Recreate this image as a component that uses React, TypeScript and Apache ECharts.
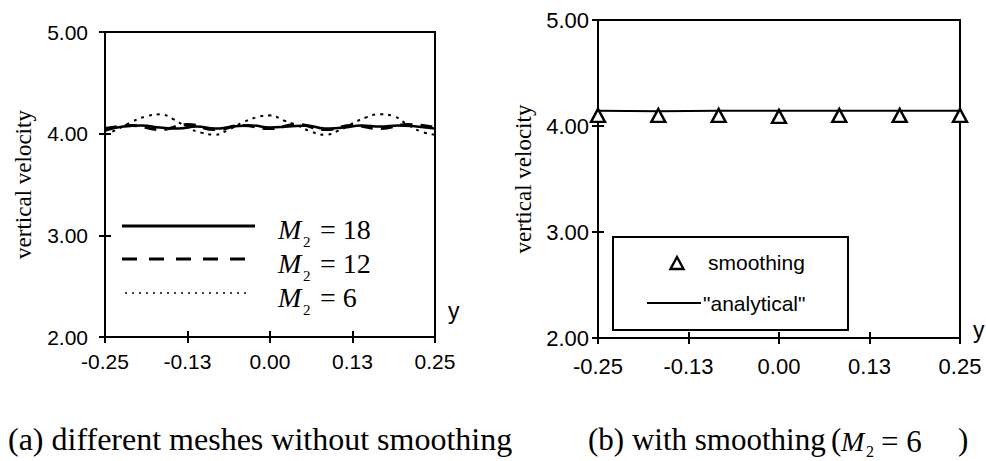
import React, { useEffect, useRef } from "react";
import * as echarts from "echarts";

// ---- data ----
const xM6 = [-0.25, -0.2292, -0.2083, -0.1875, -0.1667, -0.1458, -0.125, -0.1042, -0.0833, -0.0625, -0.0417, -0.0208, 0, 0.0208, 0.0417, 0.0625, 0.0833, 0.1042, 0.125, 0.1458, 0.1667, 0.1875, 0.2083, 0.2292, 0.25];
const vM6 = [3.99, 4.05, 4.12, 4.17, 4.19, 4.14, 4.06, 4.01, 3.99, 4.04, 4.11, 4.16, 4.18, 4.13, 4.08, 4.02, 3.99, 4.03, 4.10, 4.16, 4.19, 4.17, 4.09, 4.02, 3.99];

const xM12 = [-0.25, -0.2083, -0.1667, -0.125, -0.0833, -0.0417, 0, 0.0417, 0.0833, 0.125, 0.1667, 0.2083, 0.25];
const vM12 = [4.05, 4.08, 4.04, 4.09, 4.04, 4.08, 4.05, 4.09, 4.04, 4.08, 4.05, 4.09, 4.06];

const xM18 = [-0.25, -0.2222, -0.1944, -0.1667, -0.1389, -0.1111, -0.0833, -0.0556, -0.0278, 0, 0.0278, 0.0556, 0.0833, 0.1111, 0.1389, 0.1667, 0.1944, 0.2222, 0.25];
const vM18 = [4.03, 4.07, 4.08, 4.06, 4.05, 4.07, 4.05, 4.07, 4.08, 4.06, 4.07, 4.08, 4.05, 4.06, 4.08, 4.07, 4.08, 4.07, 4.05];

const xSmooth = [-0.25, -0.1667, -0.0833, 0, 0.0833, 0.1667, 0.25];
const vSmooth = [4.10, 4.10, 4.10, 4.09, 4.10, 4.10, 4.10];
const vAnalytical = [4.145, 4.14, 4.145, 4.145, 4.145, 4.145, 4.145];

const xTicks = { min: -0.25, max: 0.25, interval: 0.125 };
const yTicks = { min: 2, max: 5, interval: 1 };

const SANS = '"Liberation Sans", Arial, sans-serif';
const SERIF = '"Liberation Serif", "Times New Roman", serif';

const zip = (xs: number[], ys: number[]) => xs.map((x, i) => [x, ys[i]]);

export default function App() {
  const ref = useRef<HTMLDivElement>(null);
  useEffect(() => {
    if (!ref.current) return;
    const chart = echarts.init(ref.current, undefined, { renderer: "svg" });
    const fmt = (v: number) => v.toFixed(2);
    const axLine = { show: true, onZero: false, lineStyle: { color: "#000", width: 2 } };
    const noLine = { show: false, onZero: false };

    const mkX = (grid: number, main: boolean, fs: number, margin: number) => ({
      type: "value",
      gridIndex: grid,
      position: "bottom",
      ...xTicks,
      axisLine: main ? axLine : noLine,
      axisTick: { show: true, inside: !main, length: 6, lineStyle: { color: "#000", width: 2 } },
      axisLabel: main
        ? { show: true, formatter: fmt, color: "#000", fontSize: fs, fontFamily: SANS, margin }
        : { show: false },
      splitLine: { show: false },
    });
    const mkY = (grid: number, main: boolean, fs: number, margin: number, gap: number) => ({
      type: "value",
      gridIndex: grid,
      position: "left",
      ...yTicks,
      name: main ? "vertical velocity" : "",
      nameLocation: "middle",
      nameGap: gap,
      nameRotate: 90,
      nameTextStyle: { color: "#000", fontSize: 23, fontFamily: SERIF },
      axisLine: main ? axLine : noLine,
      axisTick: { show: true, inside: !main, length: 6, lineStyle: { color: "#000", width: 2 } },
      axisLabel: main
        ? { show: true, formatter: fmt, color: "#000", fontSize: fs, fontFamily: SANS, margin }
        : { show: false },
      splitLine: { show: false },
    });

    const txt = (x: number, y: number, text: string, size: number, family: string, extra: any = {}) => ({
      type: "text",
      x,
      y,
      silent: true,
      style: {
        text,
        fill: "#000",
        fontSize: size,
        fontFamily: family,
        align: "left",
        verticalAlign: "middle",
        textAlign: "left",
        textVerticalAlign: "middle",
        ...extra,
      },
    });

    const mLabel = (x: number, y: number, rest: string) => [
      txt(x, y, "M", 28, SERIF, { fontStyle: "italic" }),
      txt(x + 25, y + 13, "2", 15, SERIF),
      txt(x + 42, y, rest, 28, SERIF),
    ];

    chart.setOption({
      animation: false,
      backgroundColor: "#fff",
      grid: [
        { left: 105, top: 32, width: 330, height: 305, show: true, borderColor: "#000", borderWidth: 2, containLabel: false },
        { left: 598, top: 20, width: 362, height: 318, show: true, borderColor: "#000", borderWidth: 2, containLabel: false },
      ],
      xAxis: [mkX(0, true, 21, 14), mkX(0, false, 21, 14), mkX(1, true, 22, 17), mkX(1, false, 22, 17)],
      yAxis: [mkY(0, true, 21, 17, 70), mkY(0, false, 21, 17, 70), mkY(1, true, 22, 9, 63), mkY(1, false, 22, 9, 63)],
      series: [
        {
          name: "M2 = 18",
          type: "line",
          xAxisIndex: 0,
          yAxisIndex: 0,
          data: zip(xM18, vM18),
          smooth: true,
          symbol: "none",
          lineStyle: { color: "#000", width: 2.5, type: "solid" },
        },
        {
          name: "M2 = 12",
          type: "line",
          xAxisIndex: 0,
          yAxisIndex: 0,
          data: zip(xM12, vM12),
          smooth: true,
          symbol: "none",
          lineStyle: { color: "#000", width: 3, type: [12, 8] },
        },
        {
          name: "M2 = 6",
          type: "line",
          xAxisIndex: 0,
          yAxisIndex: 0,
          data: zip(xM6, vM6),
          smooth: true,
          symbol: "none",
          lineStyle: { color: "#000", width: 2, type: [3, 5] },
        },
        {
          name: "\"analytical\"",
          type: "line",
          xAxisIndex: 2,
          yAxisIndex: 2,
          data: zip(xSmooth, vAnalytical),
          symbol: "none",
          lineStyle: { color: "#000", width: 2 },
          z: 2,
        },
        {
          name: "smoothing",
          type: "scatter",
          xAxisIndex: 2,
          yAxisIndex: 2,
          data: zip(xSmooth, vSmooth),
          symbol: "triangle",
          symbolSize: [14, 13],
          clip: false,
          itemStyle: { color: "#fff", borderColor: "#000", borderWidth: 2.4, opacity: 1 },
          z: 3,
        },
      ],
      graphic: [
        // left legend
        { type: "line", silent: true, shape: { x1: 122, y1: 226, x2: 255, y2: 226 }, style: { stroke: "#000", lineWidth: 3 } },
        { type: "line", silent: true, shape: { x1: 122, y1: 259, x2: 255, y2: 259 }, style: { stroke: "#000", lineWidth: 3, lineDash: [15, 12] } },
        { type: "line", silent: true, shape: { x1: 125, y1: 293, x2: 247, y2: 293 }, style: { stroke: "#000", lineWidth: 1.5, lineDash: [2, 5] } },
        ...mLabel(278, 229, "= 18"),
        ...mLabel(278, 263, "= 12"),
        ...mLabel(278, 297, "= 6"),
        // axis "y" labels
        txt(448, 311, "y", 23, SANS),
        txt(973, 330, "y", 23, SANS),
        // right legend
        { type: "rect", silent: true, shape: { x: 613, y: 237, width: 235, height: 93 }, style: { fill: "#fff", stroke: "#000", lineWidth: 2 }, z: 10 },
        { type: "polygon", silent: true, shape: { points: [[677, 257], [683.5, 269], [670.5, 269]] }, style: { fill: "#fff", stroke: "#000", lineWidth: 2.4 }, z: 11 },
        { ...txt(708, 262, "smoothing", 21, SANS), z: 11 },
        { type: "line", silent: true, shape: { x1: 647, y1: 303, x2: 701, y2: 303 }, style: { stroke: "#000", lineWidth: 2 }, z: 11 },
        { ...txt(703, 303, "\"analytical\"", 21, SANS), z: 11 },
        // captions
        txt(8, 439, "(a) different meshes without smoothing", 32, SERIF),
        txt(588, 439, "(b) with smoothing", 31, SERIF),
        txt(831, 439, "(", 31, SERIF),
        txt(841, 441, "M", 28, SERIF, { fontStyle: "italic" }),
        txt(866, 451, "2", 16, SERIF),
        txt(881, 441, "= 6", 31, SERIF),
        txt(958, 439, ")", 31, SERIF),
      ],
    });
    return () => chart.dispose();
  }, []);
  return <div ref={ref} style={{ position: "absolute", left: 0, top: 0, width: 986, height: 461 }} />;
}
